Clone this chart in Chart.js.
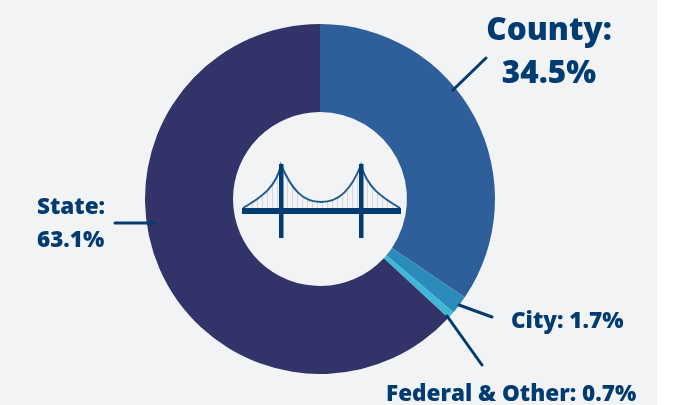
<!DOCTYPE html>
<html>
<head>
<meta charset="utf-8">
<style>
  html, body { margin: 0; padding: 0; background: #fff; }
  canvas { display: block; background: #f2f3f5; }
</style>
<script src="https://cdn.jsdelivr.net/npm/chart.js@4"></script>
</head>
<body>
<canvas id="funding-chart" width="657" height="405"></canvas>
<script>
const categories = ['County', 'City', 'Federal & Other', 'State'];
const shares = [34.5, 1.7, 0.7, 63.1];
const sliceColors = ['#2f5f9a', '#2b8cbb', '#3fb8d8', '#313369'];

const INK = '#003c71';

// ── Leader lines and labels ───────────────────────────────
const leaders = [
    [453, 90, 486, 58],
    [459, 305, 492, 317],
    [447, 316, 482, 365],
    [115, 223, 155, 223]
];
const labels = [
    { lines: ['County:', '34.5%'], x: 549, y: [40, 83], size: 31.5, align: 'center' },
    { lines: ['City: 1.7%'], x: 511, y: [328], size: 22.5, align: 'left' },
    { lines: ['Federal & Other: 0.7%'], x: 386, y: [401], size: 22.5, align: 'left' },
    { lines: ['State:', '63.1%'], x: 37, y: [214, 247], size: 22.5, align: 'left' }
];

const annotations = {
    id: 'annotations',
    afterDraw(chart) {
        const ctx = chart.ctx;
        ctx.save();
        ctx.strokeStyle = INK;
        ctx.lineWidth = 3;
        ctx.lineCap = 'round';
        leaders.forEach(l => {
            ctx.beginPath();
            ctx.moveTo(l[0], l[1]);
            ctx.lineTo(l[2], l[3]);
            ctx.stroke();
        });
        ctx.fillStyle = INK;
        ctx.textBaseline = 'alphabetic';
        labels.forEach(l => {
            ctx.font = `800 ${l.size}px "Open Sans", sans-serif`;
            ctx.textAlign = l.align;
            l.lines.forEach((t, i) => ctx.fillText(t, l.x, l.y[i]));
        });
        drawBridge(ctx);
        ctx.restore();
    }
};

// ── Bridge icon in the hole ───────────────────────────────
function drawBridge(ctx) {
    // hangers, clipped under the cables
    ctx.save();
    ctx.beginPath();
    cablePath(ctx);
    ctx.lineTo(400, 208);
    ctx.lineTo(243, 208);
    ctx.closePath();
    ctx.clip();
    ctx.strokeStyle = '#d3d8e0';
    ctx.lineWidth = 1;
    ctx.lineCap = 'butt';
    for (let x = 247; x < 400; x += 5) {
        ctx.beginPath();
        ctx.moveTo(x + 0.5, 160);
        ctx.lineTo(x + 0.5, 208);
        ctx.stroke();
    }
    ctx.restore();

    ctx.strokeStyle = '#1f5a93';
    ctx.lineWidth = 2;
    ctx.lineCap = 'butt';
    ctx.beginPath();
    cablePath(ctx);
    ctx.stroke();

    ctx.fillStyle = INK;
    ctx.fillRect(242, 208, 159, 6);
    ctx.fillRect(279, 164, 4.5, 74);
    ctx.fillRect(359, 164, 4.5, 74);
}

function cablePath(ctx) {
    ctx.moveTo(243, 208);
    ctx.bezierCurveTo(262, 197, 276, 187, 281, 165);
    ctx.bezierCurveTo(292, 190, 303, 202, 321, 202);
    ctx.bezierCurveTo(339, 202, 351, 190, 361, 165);
    ctx.bezierCurveTo(367, 187, 381, 197, 400, 208);
}

new Chart(document.getElementById('funding-chart'), {
    type: 'doughnut',
    data: {
        labels: categories,
        datasets: [{
            data: shares,
            backgroundColor: sliceColors,
            borderWidth: 0
        }]
    },
    options: {
        responsive: false,
        animation: false,
        radius: 175,
        cutout: '49.7%',
        layout: { padding: { left: 0, top: 0, right: 17, bottom: 7 } },
        plugins: {
            legend: { display: false },
            tooltip: { enabled: false }
        }
    },
    plugins: [annotations]
});
</script>
</body>
</html>
